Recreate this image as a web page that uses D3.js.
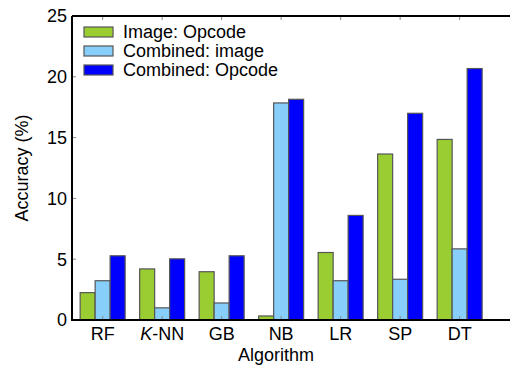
<!DOCTYPE html>
<html>
<head>
<meta charset="utf-8">
<script src="https://cdn.jsdelivr.net/npm/d3@7"></script>
<style>
  body { margin: 0; background: #fff; }
  text { font-family: "Liberation Sans", Arial, sans-serif; }
</style>
</head>
<body>
<script>
// data
const algorithms = ['RF', 'K-NN', 'GB', 'NB', 'LR', 'SP', 'DT'];
const seriesNames = ['Image: Opcode', 'Combined: image', 'Combined: Opcode'];
const imageOpcode = [2.25, 4.2, 3.97, 0.33, 5.55, 13.65, 14.85];
const combinedImage = [3.23, 1.0, 1.4, 17.85, 3.23, 3.35, 5.85];
const combinedOpcode = [5.28, 5.03, 5.28, 18.15, 8.6, 17.0, 20.68];
const yTicks = [0, 5, 10, 15, 20, 25];

const series = [imageOpcode, combinedImage, combinedOpcode];
const colors = ['#9acd32', '#87cefa', '#0000ff'];

const width = 510, height = 365;
const margin = { top: 16, left: 72, bottom: 45 };
const fontSize = 18;

const svg = d3.select('body').append('svg')
  .attr('width', width)
  .attr('height', height);

// category units: centres at 0..6, axis starts half a slot before the first
const x = d3.scaleLinear()
  .domain([-0.515, 6.9])
  .range([margin.left, margin.left + 7.415 * 59.5]);

const y = d3.scaleLinear()
  .domain([0, 25])
  .range([height - margin.bottom, margin.top]);

const barW = 0.252;

const groups = svg.append('g')
  .selectAll('g')
  .data(series)
  .join('g')
  .attr('fill', (d, i) => colors[i]);

groups.selectAll('rect')
  .data((vals, si) => vals.map((v, ci) => ({ v, ci, si })))
  .join('rect')
  .attr('x', d => x(d.ci + (d.si - 1.5) * barW))
  .attr('width', d => x(barW) - x(0))
  .attr('y', d => y(d.v))
  .attr('height', d => y(0) - y(d.v))
  .attr('stroke', '#555')
  .attr('stroke-width', 1.2);

// inward ticks
const tickG = svg.append('g').attr('stroke', '#888').attr('stroke-width', 1);
tickG.selectAll('.yt')
  .data(yTicks)
  .join('line')
  .attr('x1', margin.left).attr('x2', margin.left + 4)
  .attr('y1', d => y(d)).attr('y2', d => y(d));
tickG.selectAll('.xtb')
  .data(algorithms)
  .join('line')
  .attr('x1', (d, i) => x(i)).attr('x2', (d, i) => x(i))
  .attr('y1', y(0)).attr('y2', y(0) - 4);
tickG.selectAll('.xtt')
  .data(algorithms)
  .join('line')
  .attr('x1', (d, i) => x(i)).attr('x2', (d, i) => x(i))
  .attr('y1', y(25)).attr('y2', y(25) + 4);

// spines
svg.append('path')
  .attr('d', `M${margin.left},${y(25)}H${width}M${margin.left},${y(25)}V${y(0)}H${width}`)
  .attr('fill', 'none')
  .attr('stroke', '#000')
  .attr('stroke-width', 2);

// y tick labels
svg.append('g')
  .selectAll('text')
  .data(yTicks)
  .join('text')
  .attr('x', margin.left - 5)
  .attr('y', d => y(d))
  .attr('dy', '0.36em')
  .attr('text-anchor', 'end')
  .attr('font-size', fontSize)
  .text(d => d);

// x tick labels, K italic in K-NN
const xl = svg.append('g')
  .selectAll('text')
  .data(algorithms)
  .join('text')
  .attr('x', (d, i) => x(i))
  .attr('y', y(0) + 20)
  .attr('text-anchor', 'middle')
  .attr('font-size', fontSize);
xl.each(function (d) {
  const t = d3.select(this);
  if (d === 'K-NN') {
    t.append('tspan').attr('font-style', 'italic').text('K');
    t.append('tspan').text('-NN');
  } else {
    t.text(d);
  }
});

// axis titles
svg.append('text')
  .attr('x', 276)
  .attr('y', 361)
  .attr('text-anchor', 'middle')
  .attr('font-size', fontSize)
  .text('Algorithm');

svg.append('text')
  .attr('transform', `translate(28,${(y(0) + y(25)) / 2}) rotate(-90)`)
  .attr('text-anchor', 'middle')
  .attr('font-size', fontSize)
  .text('Accuracy (%)');

// legend
const legend = svg.append('g')
  .selectAll('g')
  .data(seriesNames)
  .join('g')
  .attr('transform', (d, i) => `translate(84,${32 + i * 19})`);
legend.append('rect')
  .attr('x', 0).attr('y', -5)
  .attr('width', 29).attr('height', 10)
  .attr('fill', (d, i) => colors[i])
  .attr('stroke', '#555')
  .attr('stroke-width', 1.2);
legend.append('text')
  .attr('x', 39)
  .attr('dy', '0.36em')
  .attr('font-size', fontSize)
  .text(d => d);
</script>
</body>
</html>
